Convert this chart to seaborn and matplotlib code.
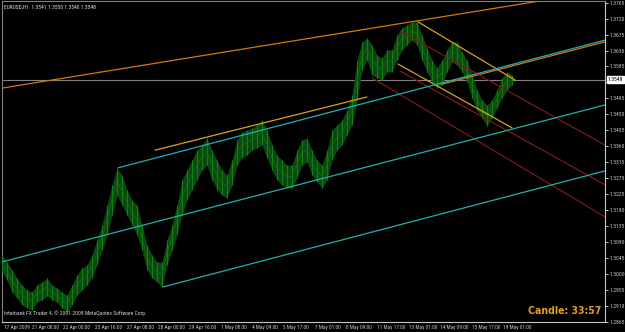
import matplotlib
matplotlib.use("Agg")
import matplotlib.pyplot as plt
import matplotlib.transforms as mtransforms
from matplotlib import font_manager
import numpy as np
import pandas as pd
import seaborn as sns

# ---------------- data ----------------
# sampled hourly bars (every 5th bar), high / low prices
bar_idx = list(range(0, 511, 5))
highs = [1.3053, 1.3033, 1.3011, 1.2988, 1.2969, 1.2954, 1.2949, 1.2969, 1.2977, 1.2988,
         1.2969, 1.2960, 1.2949, 1.2940, 1.2969, 1.2997, 1.3017, 1.3025, 1.3053, 1.3096,
         1.3138, 1.3194, 1.3251, 1.3299, 1.3279, 1.3237, 1.3208, 1.3194, 1.3138, 1.3081,
         1.3053, 1.3033, 1.3033, 1.3096, 1.3138, 1.3194, 1.3265, 1.3293, 1.3321, 1.3349,
         1.3364, 1.3383, 1.3349, 1.3321, 1.3293, 1.3279, 1.3321, 1.3378, 1.3400, 1.3406,
         1.3411, 1.3420, 1.3434, 1.3406, 1.3364, 1.3335, 1.3321, 1.3307, 1.3307, 1.3349,
         1.3378, 1.3383, 1.3349, 1.3321, 1.3307, 1.3349, 1.3406, 1.3420, 1.3434, 1.3462,
         1.3505, 1.3603, 1.3654, 1.3665, 1.3646, 1.3617, 1.3609, 1.3632, 1.3632, 1.3674,
         1.3694, 1.3702, 1.3711, 1.3711, 1.3674, 1.3637, 1.3603, 1.3581, 1.3603, 1.3632,
         1.3654, 1.3654, 1.3626, 1.3603, 1.3561, 1.3519, 1.3491, 1.3476, 1.3491, 1.3519,
         1.3553, 1.3570, 1.3561]
lows = [1.3005, 1.2983, 1.2949, 1.2932, 1.2912, 1.2904, 1.2898, 1.2921, 1.2926, 1.2938,
        1.2926, 1.2921, 1.2904, 1.2892, 1.2912, 1.2940, 1.2954, 1.2969, 1.2988, 1.3025,
        1.3067, 1.3110, 1.3166, 1.3222, 1.3194, 1.3166, 1.3138, 1.3110, 1.3067, 1.3011,
        1.2988, 1.2977, 1.2963, 1.3025, 1.3067, 1.3110, 1.3166, 1.3208, 1.3237, 1.3265,
        1.3293, 1.3307, 1.3265, 1.3237, 1.3222, 1.3214, 1.3251, 1.3307, 1.3327, 1.3335,
        1.3349, 1.3355, 1.3364, 1.3327, 1.3293, 1.3265, 1.3251, 1.3242, 1.3242, 1.3270,
        1.3307, 1.3316, 1.3279, 1.3259, 1.3242, 1.3265, 1.3321, 1.3349, 1.3364, 1.3392,
        1.3420, 1.3490, 1.3575, 1.3603, 1.3561, 1.3553, 1.3547, 1.3570, 1.3570, 1.3603,
        1.3632, 1.3646, 1.3660, 1.3646, 1.3603, 1.3570, 1.3541, 1.3524, 1.3533, 1.3570,
        1.3598, 1.3589, 1.3570, 1.3541, 1.3496, 1.3462, 1.3440, 1.3417, 1.3440, 1.3468,
        1.3496, 1.3519, 1.3533]

current_price = 1.3548
title_text = "EURUSD,H1  1.3541 1.3550 1.3540 1.3548"
copyright_text = "Interbank FX Trader 4, \u00a9 2001-2008 MetaQuotes Software Corp."
candle_text = "Candle: 33:57"

# trend lines: (bar anchors, price anchors)
orange_top_x, orange_top_y = [0, 560], [1.3524, 1.3780]
cyan_up_x, cyan_up_y = [116, 620], [1.3299, 1.3672]
cyan_mid_x, cyan_mid_y = [-5, 620], [1.3030, 1.3489]
cyan_low_x, cyan_low_y = [161, 620], [1.2963, 1.3303]
orange_side_x, orange_side_y = [440, 620], [1.3535, 1.3667]
gold_left_x, gold_left_y = [153, 365], [1.3349, 1.3499]
gold_d1_x, gold_d1_y = [416, 513], [1.3711, 1.3547]
gold_d2_x, gold_d2_y = [396, 510], [1.3592, 1.3412]
red1_x, red1_y = [398, 623], [1.3685, 1.3332]
red2_x, red2_y = [398, 623], [1.3572, 1.3220]
red3_x, red3_y = [370, 623], [1.3553, 1.3127]

y_ticks = [1.3765, 1.3720, 1.3675, 1.3630, 1.3585, 1.3540, 1.3495, 1.3450, 1.3405,
           1.3360, 1.3315, 1.3270, 1.3225, 1.3180, 1.3135, 1.3090, 1.3045, 1.3000,
           1.2955, 1.2910, 1.2865]
x_tick_pos = [0, 28, 59, 91, 123, 154, 185, 217, 248, 279, 311, 342, 373, 405, 436, 468, 499]
x_tick_labels = ["17 Apr 2009", "21 Apr 08:00", "22 Apr 00:00", "23 Apr 16:00",
                 "27 Apr 08:00", "28 Apr 00:00", "29 Apr 16:00", "1 May 08:00",
                 "4 May 09:00", "5 May 17:00", "7 May 01:00", "8 May 09:00",
                 "11 May 17:00", "13 May 01:00", "14 May 09:00", "15 May 17:00",
                 "19 May 01:00"]

# ---------------- style ----------------
sns.set_theme(style="dark", rc={"axes.facecolor": "black", "figure.facecolor": "black",
                                "axes.grid": False})
names = {f.name for f in font_manager.fontManager.ttflist}
small_font = "DejaVu Sans"
for cand in ["Liberation Sans Narrow", "DejaVu Sans Condensed", "Roboto Condensed"]:
    if cand in names:
        small_font = cand
        break
plt.rcParams["font.family"] = [small_font, "DejaVu Sans"]

W, H, DPI = 625, 332, 100
fig = plt.figure(figsize=(W / DPI, H / DPI), dpi=DPI, facecolor="black")
renderer = fig.canvas.get_renderer()


def fit_size(s, target_px, family=None, weight="normal"):
    t = fig.text(0, 0, s, fontsize=10, family=family or [small_font, "DejaVu Sans"],
                 fontweight=weight)
    w = t.get_window_extent(renderer).width
    t.remove()
    return 10 * target_px / w


fs_y = min(fit_size("1.3765", 15.5), 5.0)
fs_x = min(fit_size("21 Apr 08:00", 27), 5.0)
fs_title = min(fit_size(title_text, 92), 5.0)
fs_copy = min(fit_size(copyright_text, 143), 5.0)
fs_candle = fit_size(candle_text, 74, family="DejaVu Sans", weight="bold")

ax = fig.add_axes([2 / W, 10 / H, 603 / W, 321 / H])
ax.set_facecolor("black")

df = pd.DataFrame({"bar": bar_idx, "high": highs, "low": lows})
df["mid"] = (df["high"] + df["low"]) / 2

# price bars
ax.fill_between(df["bar"], df["low"], df["high"], color="#0a4a0e", lw=0, zorder=2)
ax.vlines(df["bar"], df["low"], df["high"], color="#168018", lw=0.7, zorder=3)
sns.lineplot(data=df, x="bar", y="mid", ax=ax, color="#15701a", lw=0.5, zorder=3)

# current price line
ax.axhline(current_price, color="#808080", lw=0.8, zorder=1)

lw = 0.9
def tl(xs, ys, color, z=4):
    sns.lineplot(x=xs, y=ys, ax=ax, color=color, lw=lw, zorder=z)

tl(orange_top_x, orange_top_y, "#d07a10")
tl(orange_side_x, orange_side_y, "#d07a10")
tl(cyan_up_x, cyan_up_y, "#20b2aa", 5)
tl(cyan_mid_x, cyan_mid_y, "#20b2aa", 5)
tl(cyan_low_x, cyan_low_y, "#20b2aa", 5)
tl(gold_left_x, gold_left_y, "#d4a517")
tl(gold_d1_x, gold_d1_y, "#d4a517")
tl(gold_d2_x, gold_d2_y, "#d4a517")
tl(red1_x, red1_y, "#7a1a1a")
tl(red2_x, red2_y, "#7a1a1a")
tl(red3_x, red3_y, "#7a1a1a")

ax.set_xlim(0, 603)
ax.set_ylim(1.28641, 1.37698)
ax.set_xlabel("")
ax.set_ylabel("")

# spines
for s in ["left", "top"]:
    ax.spines[s].set_color("#808080")
    ax.spines[s].set_linewidth(0.8)
for s in ["right", "bottom"]:
    ax.spines[s].set_color("#c8c8c8")
    ax.spines[s].set_linewidth(0.8)

# y axis on right
ax.yaxis.tick_right()
ax.set_yticks(y_ticks)
ax.set_yticklabels([f"{v:.4f}" for v in y_ticks])
ax.tick_params(axis="y", colors="#c8c8c8", labelsize=fs_y, length=2, width=0.7, pad=1,
               left=False, right=True, direction="out")

# x axis
ax.set_xticks(x_tick_pos)
ax.set_xticklabels(x_tick_labels)
ax.tick_params(axis="x", colors="#c8c8c8", labelsize=fs_x, length=3, width=0.7, pad=1,
               direction="inout")
offset = mtransforms.ScaledTranslation(2 / DPI, 0, fig.dpi_scale_trans)
for lbl in ax.get_xticklabels():
    lbl.set_horizontalalignment("left")
    lbl.set_transform(lbl.get_transform() + offset)

# texts
ax.text(0.004, 0.99, title_text, transform=ax.transAxes, color="#e0e0e0",
        fontsize=fs_title, ha="left", va="top")
ax.text(0.004, 0.02, copyright_text, transform=ax.transAxes, color="#d0d0d0",
        fontsize=fs_copy, ha="left", va="bottom")
ax.text(0.994, 0.02, candle_text, transform=ax.transAxes, color="#e0a020",
        fontsize=fs_candle, fontweight="bold", family="DejaVu Sans", ha="right", va="bottom")

trans = mtransforms.blended_transform_factory(ax.transAxes, ax.transData)
ax.text(1.004, current_price, f"{current_price:.4f}", transform=trans, color="black",
        fontsize=fs_y, ha="left", va="center", zorder=10, clip_on=False,
        bbox=dict(boxstyle="square,pad=0.15", fc="white", ec="white"))

fig.savefig("out.png", dpi=DPI, facecolor="black")
